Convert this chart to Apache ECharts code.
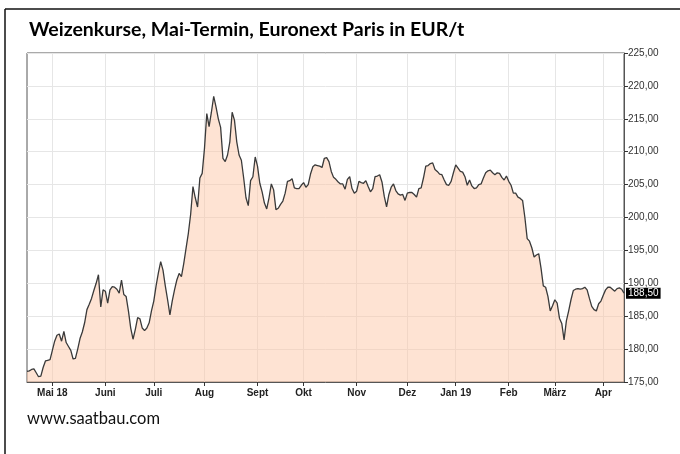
<!DOCTYPE html>
<html>
<head>
<meta charset="utf-8">
<script src="https://cdn.jsdelivr.net/npm/echarts@6/dist/echarts.min.js"></script>
<style>
  html, body { margin: 0; padding: 0; background: #fff; }
  #main { width: 680px; height: 454px; }
</style>
</head>
<body>
<div id="main"></div>
<script>
// Weizen, Mai-Termin (Euronext Paris), Schlusskurse je Handelstag
var startDay = '2018-04-16';
var dayCount = 260;
var monthNames = ['Jan', 'Feb', 'März', 'Apr', 'Mai', 'Juni', 'Juli', 'Aug', 'Sept', 'Okt', 'Nov', 'Dez'];
var yTicks = { min: 175, max: 225, step: 5 };
var lastPrice = 188.5;

var prices = [
  176.6, 176.7, 176.9, 177.0, 176.4, 175.8, 175.9, 177.2, 178.2, 178.3,
  178.4, 179.8, 181.2, 182.1, 182.3, 181.2, 182.7, 181.0, 180.4, 179.8,
  178.5, 178.6, 180.0, 181.6, 182.6, 184.0, 186.0, 186.8, 187.7, 188.9,
  190.0, 191.3, 186.4, 189.0, 188.8, 187.0, 189.0, 189.5, 189.4, 189.1,
  188.5, 190.5, 188.3, 188.0, 185.8, 183.2, 181.5, 183.0, 184.8, 184.6,
  183.2, 182.8, 183.2, 184.0, 185.8, 187.3, 189.6, 191.6, 193.3, 192.0,
  189.6, 187.5, 185.2, 187.3, 189.0, 190.5, 191.5, 191.0, 193.0, 195.3,
  197.6, 200.5, 204.7, 203.0, 201.6, 206.0, 206.7, 210.5, 215.8, 213.8,
  216.0, 218.4, 216.8, 215.0, 213.7, 209.0, 208.5, 209.5, 211.5, 216.0,
  214.8, 211.5, 209.5, 208.7, 206.0, 203.0, 201.8, 205.6, 206.2, 209.2,
  207.8, 205.2, 203.9, 202.2, 201.3, 203.0, 205.1, 204.2, 201.2, 201.4,
  202.0, 202.5, 203.7, 205.5, 205.6, 205.9, 204.5, 204.4, 204.4, 204.9,
  205.3, 204.6, 205.0, 206.6, 207.7, 208.0, 207.9, 207.8, 207.6, 209.0,
  209.1, 208.5, 207.0, 206.1, 205.8, 205.4, 205.1, 205.1, 204.3, 205.8,
  206.2, 204.4, 203.7, 204.0, 205.5, 205.3, 205.2, 205.6, 204.7, 203.9,
  204.4, 206.2, 206.3, 206.5, 205.4, 203.2, 201.6, 203.5, 204.6, 205.1,
  204.1, 203.6, 203.4, 203.5, 202.6, 203.7, 203.8, 203.8, 203.5, 203.1,
  204.4, 204.5, 206.0, 207.8, 207.9, 208.2, 208.3, 207.3, 207.0, 206.6,
  206.5, 205.7, 205.0, 204.9, 205.5, 206.8, 208.0, 207.5, 207.0, 206.9,
  206.2, 204.9, 205.7, 204.8, 204.4, 204.5, 205.0, 205.1, 206.0, 206.8,
  207.1, 207.2, 206.8, 206.5, 206.8, 206.7, 206.1, 205.7, 206.3, 205.5,
  204.9, 203.7, 203.7, 203.1, 202.9, 202.6, 200.0, 196.8, 196.4, 195.4,
  194.0, 194.3, 194.5, 192.3, 189.6, 189.4, 188.0, 185.8, 186.6, 187.5,
  187.0, 184.7, 183.9, 181.4, 184.3, 185.8, 187.5, 188.9, 189.1, 189.2,
  189.1, 189.2, 189.4, 189.0, 187.7, 186.5, 186.0, 185.8, 186.9, 187.3,
  188.2, 189.0, 189.4, 189.4, 189.1, 188.8, 189.2, 189.3, 189.1, 188.5
];

// Handelstage (Mo-Fr)
var days = [];
var d = new Date(startDay + 'T00:00:00Z');
while (days.length < dayCount) {
  var wd = d.getUTCDay();
  if (wd !== 0 && wd !== 6) days.push(d.toISOString().slice(0, 10));
  d.setUTCDate(d.getUTCDate() + 1);
}

function isMonthStart(i) {
  return i > 0 && days[i].slice(5, 7) !== days[i - 1].slice(5, 7);
}
var firstLabel = true;
function monthLabel(value) {
  var m = parseInt(value.slice(5, 7), 10) - 1;
  var txt = monthNames[m];
  if (m === 0 || firstLabel) {
    txt += ' ' + value.slice(2, 4);
    firstLabel = false;
  }
  return txt;
}
function fmt(v) {
  return v.toFixed(2).replace('.', ',');
}

var myChart = echarts.init(document.getElementById('main'));
myChart.setOption({
  animation: false,
  title: {
    text: 'Weizenkurse, Mai-Termin, Euronext Paris in EUR/t',
    left: 24,
    top: 15,
    textStyle: {
      fontFamily: 'Lato',
      fontWeight: 'bold',
      fontSize: 19.5,
      color: '#000'
    }
  },
  graphic: [
    { type: 'line', shape: { x1: 5, y1: 9, x2: 680, y2: 9 }, style: { stroke: '#111', lineWidth: 1.5 } },
    { type: 'line', shape: { x1: 5, y1: 9, x2: 5, y2: 454 }, style: { stroke: '#111', lineWidth: 1.5 } },
    {
      type: 'text',
      left: 27,
      top: 410,
      style: { text: 'www.saatbau.com', font: '16.5px Lato', fill: '#111' }
    }
  ],
  grid: {
    left: 27,
    right: 56,
    top: 53,
    bottom: 72,
    show: true,
    borderColor: '#555',
    borderWidth: 1
  },
  xAxis: {
    type: 'category',
    data: days,
    boundaryGap: false,
    axisLine: { lineStyle: { color: '#555' } },
    axisTick: {
      interval: function (i) { return isMonthStart(i); },
      length: 4,
      lineStyle: { color: '#333' }
    },
    axisLabel: {
      interval: function (i) { return isMonthStart(i); },
      formatter: monthLabel,
      fontFamily: 'Liberation Sans',
      fontWeight: 'bold',
      fontSize: 10,
      color: '#222',
      margin: 6
    },
    splitLine: {
      show: true,
      interval: function (i) { return isMonthStart(i); },
      lineStyle: { color: '#e6e6e6' }
    }
  },
  yAxis: {
    type: 'value',
    position: 'right',
    min: yTicks.min,
    max: yTicks.max,
    interval: yTicks.step,
    axisLine: { show: true, lineStyle: { color: '#555' } },
    axisTick: { show: true, length: 4, lineStyle: { color: '#333' } },
    axisLabel: {
      formatter: fmt,
      fontFamily: 'Liberation Sans',
      fontSize: 10,
      color: '#333',
      margin: 4
    },
    splitLine: { lineStyle: { color: '#e6e6e6' } }
  },
  series: [
    {
      type: 'line',
      data: prices,
      symbol: 'none',
      lineStyle: { color: '#3a3a3a', width: 1.3 },
      areaStyle: { color: 'rgba(252, 196, 162, 0.68)' },
      endLabel: {
        show: true,
        formatter: function () { return fmt(lastPrice); },
        backgroundColor: '#000',
        color: '#fff',
        fontFamily: 'Liberation Sans',
        fontSize: 10,
        padding: [1, 2, 0, 2],
        distance: 2
      }
    }
  ]
});
</script>
</body>
</html>
